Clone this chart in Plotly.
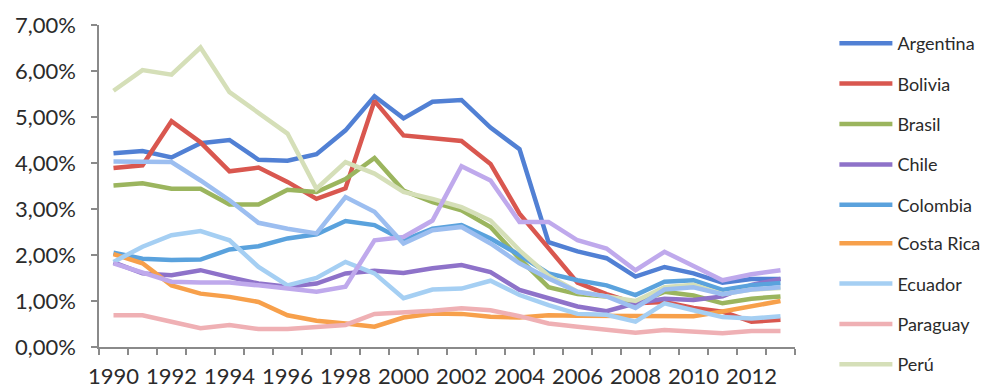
import plotly.graph_objects as go

years = list(range(1990, 2014))
year_labels = [str(y) for y in range(1990, 2013, 2)]

countries = ["Argentina", "Bolivia", "Brasil", "Chile", "Colombia",
             "Costa Rica", "Ecuador", "Paraguay", "Perú", "Uruguay", "Venezuela"]

# values in percent
argentina = [4.21, 4.26, 4.12, 4.43, 4.50, 4.07, 4.05, 4.19, 4.71, 5.45, 4.97, 5.33,
             5.37, 4.77, 4.30, 2.28, 2.08, 1.93, 1.53, 1.74, 1.60, 1.40, 1.48, 1.48]
bolivia = [3.89, 3.95, 4.91, 4.45, 3.82, 3.90, 3.59, 3.22, 3.45, 5.35, 4.60, 4.53,
           4.48, 3.98, 2.90, 2.15, 1.40, 1.15, 0.95, 0.98, 0.85, 0.77, 0.55, 0.59]
brasil = [3.51, 3.56, 3.44, 3.44, 3.10, 3.10, 3.42, 3.37, 3.65, 4.11, 3.40, 3.15,
          2.97, 2.61, 1.92, 1.30, 1.15, 1.10, 0.95, 1.20, 1.12, 0.95, 1.05, 1.10]
chile = [1.84, 1.60, 1.56, 1.67, 1.52, 1.38, 1.31, 1.38, 1.60, 1.66, 1.61, 1.71,
         1.78, 1.63, 1.24, 1.05, 0.88, 0.78, 0.95, 1.05, 1.02, 1.10, 1.35, 1.48]
colombia = [2.05, 1.92, 1.89, 1.90, 2.12, 2.19, 2.36, 2.45, 2.74, 2.65, 2.32, 2.57,
            2.65, 2.36, 2.00, 1.60, 1.45, 1.34, 1.13, 1.42, 1.45, 1.24, 1.34, 1.39]
costa_rica = [2.02, 1.82, 1.34, 1.16, 1.09, 0.98, 0.69, 0.57, 0.51, 0.44, 0.64, 0.73,
              0.72, 0.66, 0.64, 0.69, 0.68, 0.68, 0.67, 0.67, 0.67, 0.77, 0.89, 1.00]
ecuador = [1.85, 2.18, 2.43, 2.52, 2.32, 1.74, 1.34, 1.50, 1.85, 1.60, 1.06, 1.25,
           1.27, 1.44, 1.13, 0.91, 0.72, 0.70, 0.55, 0.95, 0.80, 0.65, 0.62, 0.67]
paraguay = [0.69, 0.69, 0.55, 0.41, 0.48, 0.39, 0.39, 0.44, 0.48, 0.72, 0.75, 0.79,
            0.84, 0.80, 0.67, 0.51, 0.44, 0.38, 0.31, 0.37, 0.33, 0.30, 0.35, 0.35]
peru = [5.57, 6.02, 5.92, 6.51, 5.54, 5.10, 4.64, 3.44, 4.02, 3.77, 3.37, 3.22,
        3.04, 2.75, 2.10, 1.55, 1.20, 1.10, 1.00, 1.30, 1.35, 1.15, 1.25, 1.28]
uruguay = [1.82, 1.63, 1.42, 1.40, 1.40, 1.34, 1.27, 1.20, 1.31, 2.32, 2.39, 2.75,
           3.93, 3.62, 2.72, 2.72, 2.32, 2.14, 1.67, 2.07, 1.76, 1.45, 1.58, 1.67]
venezuela = [4.03, 4.03, 4.02, 3.62, 3.19, 2.70, 2.57, 2.47, 3.26, 2.94, 2.25, 2.54,
             2.61, 2.25, 1.82, 1.49, 1.20, 1.10, 0.85, 1.25, 1.30, 1.15, 1.25, 1.30]

series = [argentina, bolivia, brasil, chile, colombia, costa_rica,
          ecuador, paraguay, peru, uruguay, venezuela]

colors = ["#5180D4", "#D9574F", "#9BB55E", "#8E72C9", "#5AA2DD", "#F7A04B",
          "#A5CFF3", "#EFB0B4", "#D5DFB8", "#BFA9EC", "#9CBEF0"]

# legend entries: first five in the upper box, next four in the lower box,
# the remaining series do not fit and stay out of the legend
legend_slots = ["legend"] * 5 + ["legend2"] * 4 + [None, None]

axis_color = "#8a8a8a"
text_color = "#2b2b2b"

fig = go.Figure()
for name, vals, col, slot in zip(countries, series, colors, legend_slots):
    fig.add_trace(go.Scatter(
        x=years,
        y=[v / 100 for v in vals],
        name=name,
        mode="lines",
        line=dict(color=col, width=4.5),
        legendgroup=name,
        legend=slot or "legend",
        showlegend=slot is not None,
    ))

legend_style = dict(
    x=1.0566, xanchor="left", yanchor="top",
    font=dict(size=18, color=text_color),
    tracegroupgap=14,
    itemwidth=53,
    bgcolor="rgba(0,0,0,0)",
)

fig.update_layout(
    width=984,
    height=392,
    margin=dict(l=99, r=189, t=25, b=45, autoexpand=False),
    paper_bgcolor="white",
    plot_bgcolor="white",
    separators=",.",
    font=dict(family="Lato, Carlito, sans-serif", color=text_color),
    legend=dict(y=1.0, **legend_style),
    legend2=dict(y=0.379, **legend_style),
    xaxis=dict(
        range=[1989.5, 2013.5],
        automargin=False,
        tickmode="array",
        tickvals=[int(t) for t in year_labels],
        ticktext=year_labels,
        ticks="",
        showline=True,
        linecolor=axis_color,
        linewidth=1.5,
        showgrid=False,
        zeroline=False,
        tickfont=dict(size=22, color=text_color),
        ticklabelstandoff=9,
        minor=dict(tick0=1989.5, dtick=1, ticks="outside", ticklen=6,
                   tickcolor=axis_color, tickwidth=1.5, showgrid=False),
    ),
    yaxis=dict(
        range=[0, 0.07],
        automargin=False,
        dtick=0.01,
        tickformat=".2%",
        ticks="outside",
        ticklen=6,
        tickcolor=axis_color,
        tickwidth=1.5,
        showline=True,
        linecolor=axis_color,
        linewidth=1.5,
        showgrid=False,
        zeroline=False,
        tickfont=dict(size=22, color=text_color),
        ticklabelstandoff=11,
    ),
)

fig.write_html("out.html")
